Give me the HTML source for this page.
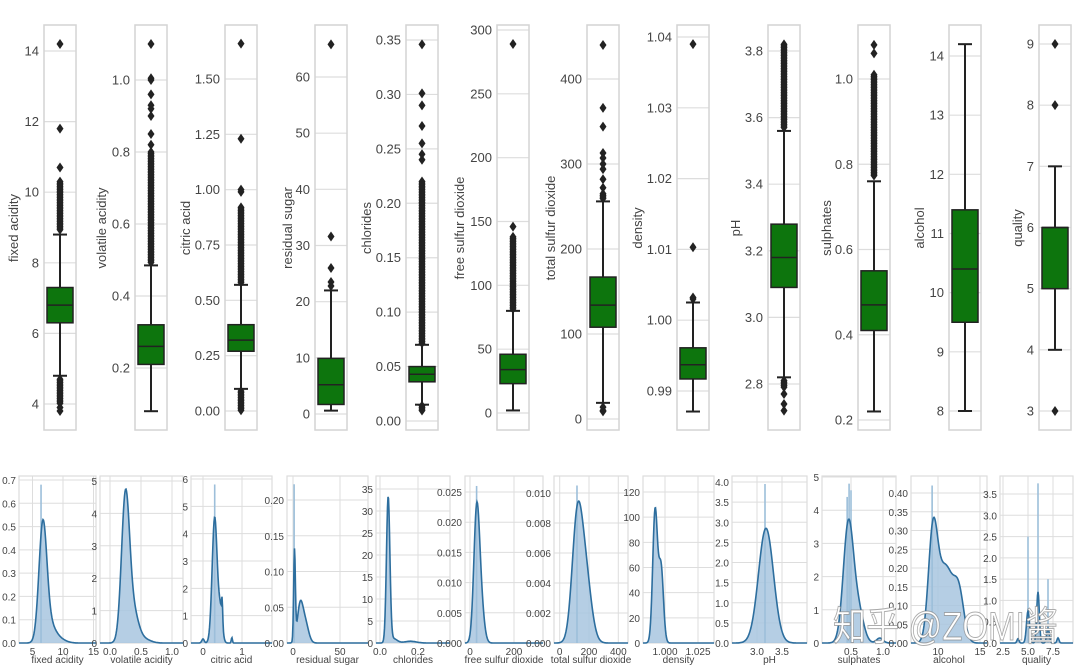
<!DOCTYPE html>
<html><head><meta charset="utf-8"><style>
html,body{margin:0;padding:0;background:#fff;width:1080px;height:671px;overflow:hidden}
svg{display:block}
text{font-family:"Liberation Sans",sans-serif;fill:#444}
</style></head><body>
<svg id="s" width="1080" height="671" xmlns="http://www.w3.org/2000/svg"></svg>
<script>
(function(){
const S=document.getElementById('s');const NS='http://www.w3.org/2000/svg';
function el(t,a,txt){const e=document.createElementNS(NS,t);for(const k in a)e.setAttribute(k,a[k]);if(txt!==undefined)e.textContent=txt;S.appendChild(e);return e;}
const TOPS=[
{x:44,lx:13,lab:'fixed acidity',t:[4,6,8,10,12,14],f:0,v1:14,y1:51,v2:4,y2:404,q1:6.3,q3:7.3,md:6.8,wl:4.8,wh:8.8,o:[14.2,11.8,10.7,3.8,3.9],d:[[8.9,10.3],[4.0,4.7]]},
{x:135,lx:101,lab:'volatile acidity',t:[0.2,0.4,0.6,0.8,1.0],f:1,v1:1.0,y1:80,v2:0.2,y2:368,q1:0.21,q3:0.32,md:0.26,wl:0.08,wh:0.485,o:[1.1,1.0,1.005,0.96,0.93,0.92,0.9,0.85,0.82],d:[[0.49,0.8]]},
{x:225,lx:185,lab:'citric acid',t:[0,0.25,0.5,0.75,1.0,1.25,1.5],f:2,v1:1.5,y1:79,v2:0,y2:411,q1:0.27,q3:0.39,md:0.32,wl:0.1,wh:0.57,o:[1.66,1.23,1.0,0.99],d:[[0,0.09],[0.58,0.92]]},
{x:315,lx:287,lab:'residual sugar',t:[0,10,20,30,40,50,60],f:0,v1:60,y1:77,v2:0,y2:414,q1:1.7,q3:9.9,md:5.2,wl:0.6,wh:22,o:[65.8,31.6,26,23.5,22.8],d:[]},
{x:406,lx:366,lab:'chlorides',t:[0,0.05,0.1,0.15,0.2,0.25,0.3,0.35],f:2,v1:0.35,y1:40,v2:0,y2:421,q1:0.036,q3:0.05,md:0.043,wl:0.015,wh:0.07,o:[0.346,0.301,0.29,0.271,0.255,0.245,0.24],d:[[0.071,0.22],[0.009,0.014]]},
{x:497,lx:459,lab:'free sulfur dioxide',t:[0,50,100,150,200,250,300],f:0,v1:300,y1:30,v2:0,y2:413,q1:23,q3:46,md:34,wl:2,wh:80,o:[289,146],d:[[81,138]]},
{x:587,lx:550,lab:'total sulfur dioxide',t:[0,100,200,300,400],f:0,v1:400,y1:79,v2:0,y2:419,q1:108,q3:167,md:134,wl:19,wh:256,o:[440,366,344,313,307,300,294,282,272,9,10,14],d:[[258,265]]},
{x:677,lx:637,lab:'density',t:[0.99,1.0,1.01,1.02,1.03,1.04],f:2,v1:1.04,y1:37,v2:0.99,y2:391,q1:0.9917,q3:0.9961,md:0.9937,wl:0.9871,wh:1.0025,o:[1.039,1.0103,1.003,1.0032],d:[]},
{x:768,lx:735,lab:'pH',t:[2.8,3.0,3.2,3.4,3.6,3.8],f:1,v1:3.8,y1:51,v2:2.8,y2:384,q1:3.09,q3:3.28,md:3.18,wl:2.82,wh:3.56,o:[2.72,2.74,2.77],d:[[3.57,3.82],[2.79,2.81]]},
{x:858,lx:826,lab:'sulphates',t:[0.2,0.4,0.6,0.8,1.0],f:1,v1:1.0,y1:79,v2:0.2,y2:420,q1:0.41,q3:0.55,md:0.47,wl:0.22,wh:0.76,o:[1.08,1.06],d:[[0.77,1.01]]},
{x:949,lx:919,lab:'alcohol',t:[8,9,10,11,12,13,14],f:0,v1:14,y1:56,v2:8,y2:411,q1:9.5,q3:11.4,md:10.4,wl:8,wh:14.2,o:[],d:[]},
{x:1039,lx:1017,lab:'quality',t:[3,4,5,6,7,8,9],f:0,v1:9,y1:44,v2:3,y2:411,q1:5,q3:6,md:6,wl:4,wh:7,o:[3,8,9],d:[]}
];
const GREEN='#0d750d',DK='#222';
function dia(cx,cy){el('path',{d:`M${cx} ${cy-5}L${cx+3.5} ${cy}L${cx} ${cy+5}L${cx-3.5} ${cy}Z`,fill:DK});}
TOPS.forEach(p=>{
 const W=32,T=25,B=430,m=v=>p.y1+(v-p.v1)*(p.y2-p.y1)/(p.v2-p.v1);
 p.t.forEach(v=>{const y=m(v);el('line',{x1:p.x,x2:p.x+W,y1:y,y2:y,stroke:'#ddd','stroke-width':1.2});
  el('text',{x:p.x-5,y:y+4.5,'text-anchor':'end','font-size':13},v.toFixed(p.f));});
 el('rect',{x:p.x,y:T,width:W,height:B-T,fill:'none',stroke:'#d4d4d4','stroke-width':1.5});
 el('text',{x:0,y:0,'font-size':13,'text-anchor':'middle',transform:`translate(${p.lx+5},228) rotate(-90)`},p.lab);
 const cx=p.x+W/2;
 el('line',{x1:cx,x2:cx,y1:m(p.wh),y2:m(p.wl),stroke:DK,'stroke-width':2});
 [p.wh,p.wl].forEach(v=>el('line',{x1:cx-7,x2:cx+7,y1:m(v),y2:m(v),stroke:DK,'stroke-width':2}));
 el('rect',{x:p.x+3,y:m(p.q3),width:W-6,height:m(p.q1)-m(p.q3),fill:GREEN,stroke:DK,'stroke-width':1.5});
 el('line',{x1:p.x+3,x2:p.x+W-3,y1:m(p.md),y2:m(p.md),stroke:DK,'stroke-width':1.5});
 p.o.forEach(v=>dia(cx,m(v)));
 p.d.forEach(r=>{let a=m(r[0]),b=m(r[1]);if(a>b){const t=a;a=b;b=t;}for(let y=a;y<=b;y+=1.6)dia(cx,y);});
});
const BT=476,BB=643;
const bot=[
{x0:19,x1:96,yt:[0,.1,.2,.3,.4,.5,.6,.7],yf:1,ytop:.7,ytopY:480,xa:[5,32.5],xb:[10,63],xt:[5,10,15],lab:'fixed acidity',c:[[.5,6.7,.65],[.07,7.9,.9],[.015,9.5,1]],sp:[[6.4,.68]]},
{x0:100,x1:183,yt:[0,1,2,3,4,5],yf:0,ytop:5,ytopY:481,xa:[0,110],xb:[0.5,141],xt:[0,0.5,1.0],xf:1,lab:'volatile acidity',c:[[4.5,.25,.065],[.9,.38,.08],[.12,.55,.1]],sp:[]},
{x0:191,x1:272,yt:[0,1,2,3,4,5,6],yf:0,ytop:6,ytopY:479,xa:[0,203],xb:[1,242],xt:[0,1],lab:'citric acid',c:[[4.6,.3,.065],[1.1,.45,.05],[.8,.49,.015],[.2,.74,.015],[.15,0,.03]],sp:[[.3,5.8]]},
{x0:287,x1:368,yt:[0,.05,.1,.15,.2],yf:2,ytop:.2,ytopY:500,xa:[0,293],xb:[50,340],xt:[0,50],lab:'residual sugar',c:[[.125,1.6,.9],[.05,7.5,3],[.028,13,3.5]],sp:[[1.2,.222]]},
{x0:376,x1:450,yt:[0,5,10,15,20,25,30,35],yf:0,ytop:35,ytopY:489,xa:[0,380],xb:[.2,418],xt:[0.0,0.2],xf:1,lab:'chlorides',c:[[33,.043,.009],[1,.07,.02],[.4,.16,.03]],sp:[]},
{x0:465,x1:543,yt:[0,.005,.01,.015,.02,.025],yf:3,ytop:.025,ytopY:492,xa:[0,470],xb:[200,514],xt:[0,200],lab:'free sulfur dioxide',c:[[.021,30,13],[.006,50,14]],sp:[[30,.026]]},
{x0:554,x1:628,yt:[0,.002,.004,.006,.008,.01],yf:3,ytop:.01,ytopY:493,xa:[0,559.7],xb:[200,589],xt:[0,200,400],lab:'total sulfur dioxide',c:[[.0075,118,35],[.0045,175,40]],sp:[[118,.0105]]},
{x0:643,x1:714,yt:[0,20,40,60,80,100,120],yf:0,ytop:120,ytopY:492,xa:[1.0,665],xb:[1.025,698],xt:[1.000,1.025],xf:3,lab:'density',c:[[105,.9925,.0018],[60,.997,.0018]],sp:[]},
{x0:732,x1:807,yt:[0,.5,1,1.5,2,2.5,3,3.5,4],yf:1,ytop:4,ytopY:482,xa:[3.0,757],xb:[3.5,782],xt:[3.0,3.5],xf:1,lab:'pH',c:[[2.85,3.18,.15]],sp:[[3.16,3.95]]},
{x0:822,x1:896,yt:[0,1,2,3,4,5],yf:0,ytop:5,ytopY:477,xa:[.5,851],xb:[1.0,883],xt:[0.5,1.0],xf:1,lab:'sulphates',c:[[3.6,.46,.08],[.9,.62,.08],[.15,.95,.05]],sp:[[.47,4.8],[.44,4.4],[.5,4.6]]},
{x0:911,x1:987,yt:[0,.05,.1,.15,.2,.25,.3,.35,.4],yf:2,ytop:.4,ytopY:493,xa:[10,938],xb:[15,980],xt:[10,15],lab:'alcohol',c:[[.28,9.4,.55],[.2,10.9,.9],[.12,12.5,.6]],sp:[[9.3,.42]]},
{x0:1000,x1:1073,yt:[0,.5,1,1.5,2,2.5,3,3.5],yf:1,ytop:3.5,ytopY:494,xa:[2.5,1003],xb:[5.0,1028],xt:[2.5,5.0,7.5],xf:1,lab:'quality',c:[[.75,5,.15],[1.2,6,.13],[.35,7,.13],[.12,8,.1],[.1,4,.1]],sp:[[5,2.5],[6,3.75],[7,1.5]]}
];
const g=(x,m,s)=>Math.exp(-0.5*((x-m)/s)**2);
bot.forEach(p=>{
 const my=v=>BB-(BB-p.ytopY)*v/p.ytop;
 const kx=(p.xb[1]-p.xa[1])/(p.xb[0]-p.xa[0]);const mx=v=>p.xa[1]+(v-p.xa[0])*kx;const ix=X=>p.xa[0]+(X-p.xa[1])/kx;
 p.yt.forEach(v=>{const y=my(v);el('line',{x1:p.x0,x2:p.x1,y1:y,y2:y,stroke:'#ddd','stroke-width':1});
  el('text',{x:p.x0-3,y:y+4,'text-anchor':'end','font-size':10},v.toFixed(p.yf));});
 p.xt.forEach(v=>{const X=mx(v);if(X>=p.x0-1&&X<=p.x1+1)el('line',{x1:X,x2:X,y1:BT,y2:BB,stroke:'#ddd','stroke-width':1});
  el('text',{x:X,y:655,'text-anchor':'middle','font-size':10},v.toFixed(p.xf||0));});
 el('rect',{x:p.x0,y:BT,width:p.x1-p.x0,height:BB-BT,fill:'none',stroke:'#ddd','stroke-width':1.2});
 el('text',{x:(p.x0+p.x1)/2,y:663,'text-anchor':'middle','font-size':10},p.lab);
 let pts=[];for(let X=p.x0;X<=p.x1;X+=0.5){const v=ix(X);let d=0;p.c.forEach(c=>d+=c[0]*g(v,c[1],c[2]));pts.push([X,my(d)]);}
 const line=pts.map((q,j)=>(j?'L':'M')+q[0].toFixed(1)+' '+q[1].toFixed(1)).join('');
 el('path',{d:line+`L${p.x1} ${BB}L${p.x0} ${BB}Z`,fill:'#a8c6df','fill-opacity':.85});
 p.sp.forEach(s=>{const X=mx(s[0]);el('rect',{x:X-0.8,y:my(s[1]),width:1.6,height:BB-my(s[1]),fill:'#9dbfda'});});
 el('path',{d:line,fill:'none',stroke:'#2d6e9e','stroke-width':1.6});
});
const w=el('text',{x:833,y:640,'font-size':40,textLength:225,lengthAdjust:'spacingAndGlyphs','font-family':'"Liberation Sans","Noto Sans CJK SC",sans-serif',stroke:'#777','stroke-width':1,'stroke-opacity':.6},'知乎 @ZOMI酱');
w.style.fill='#fff';
})();
</script>
</body></html>
